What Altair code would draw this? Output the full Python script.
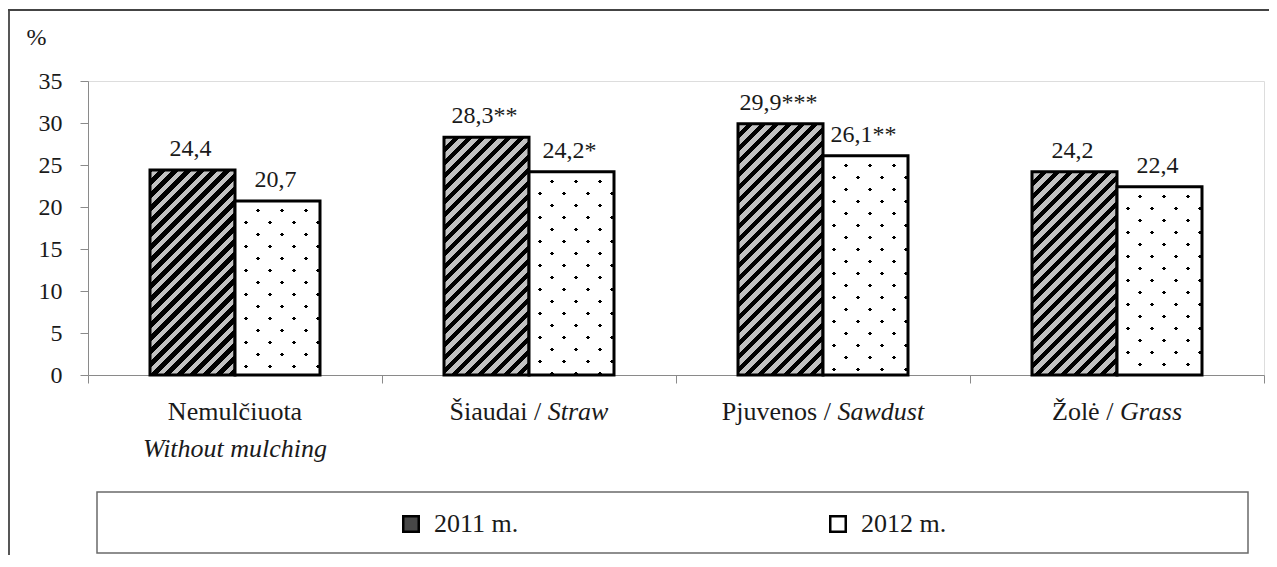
import math
import altair as alt
import pandas as pd

# ---------------- data ----------------
categories = ["Nemulčiuota", "Šiaudai", "Pjuvenos", "Žolė"]
categories_en = ["Without mulching", "Straw", "Sawdust", "Grass"]
years = ["2011 m.", "2012 m."]
values_2011 = [24.4, 28.3, 29.9, 24.2]
values_2012 = [20.7, 24.2, 26.1, 22.4]
signif_2011 = ["", "**", "***", ""]
signif_2012 = ["", "*", "**", ""]
y_ticks = [0, 5, 10, 15, 20, 25, 30, 35]
y_title = "%"

series = {years[0]: (values_2011, signif_2011), years[1]: (values_2012, signif_2012)}
rows = []
for i, c in enumerate(categories):
    for yr in years:
        vals, sig = series[yr]
        rows.append({"cat": c, "year": yr, "value": vals[i],
                     "label": f"{vals[i]:.1f}".replace(".", ",") + sig[i]})
df = pd.DataFrame(rows)
lab_df = pd.DataFrame({"cat": categories, "lt": categories, "en": categories_en})
one = alt.Data(values=[{"k": 1}])

# ---------------- style ----------------
FONT = "Liberation Serif"
TXT = "#1a1a1a"
AX = "#8a8a8a"
PLOT_W, PLOT_H = 1176, 294
Y_MAX = 35
BAND = PLOT_W / len(categories)
BAR_W = 85
OFF_PAD = (BAND / BAR_W - 2) / 2

# approximate Times metrics (per em) for centring mixed-style labels
ROMAN = {' ': .25, '/': .278, 'Š': .556, 'S': .556, 'i': .278, 'a': .444, 'u': .5,
         'd': .5, 'P': .556, 'j': .278, 'v': .5, 'e': .444, 'ė': .444, 'n': .5,
         'o': .5, 's': .389, 'Ž': .611, 'l': .278, 'N': .722, 'm': .778, 'č': .444,
         't': .278}
ITAL = {' ': .25, 'S': .5, 't': .278, 'r': .389, 'a': .5, 'w': .667, 'd': .5, 'u': .5,
        's': .389, 'G': .722, 'W': .833, 'i': .278, 'h': .5, 'o': .5, 'm': .722,
        'l': .278, 'c': .444, 'n': .5, 'g': .5}


def text_w(s, table, fs):
    return sum(table.get(ch, .5) for ch in s) * fs


def stripes(w, h, direction, period, width, phase, on, off):
    L = w + h
    lam = L / (w * w + h * h)
    if direction == "/":
        x1, y1, x2, y2 = 0, 0, lam * w, lam * h
        shift = 0.0
    else:
        x1, y1, x2, y2 = 0, 1, lam * w, 1 - lam * h
        shift = h
    stops = [(0.0, off)]
    kmin = math.floor((-width - phase - shift) / period) - 1
    kmax = math.ceil((L + width - phase - shift) / period) + 1
    for k in range(kmin, kmax + 1):
        s = phase + shift + k * period
        a = (s - width / 2) / L
        b = (s + width / 2) / L
        if b <= 0 or a >= 1:
            continue
        a = max(a, 0.0)
        b = min(b, 1.0)
        stops += [(a, off), (a, on), (b, on), (b, off)]
    stops.append((1.0, off))
    return alt.LinearGradient(
        gradient="linear",
        stops=[alt.GradientStop(offset=round(o, 6), color=c) for o, c in stops],
        x1=x1, y1=y1, x2=x2, y2=y2)


x_axis = alt.Axis(title=None, labels=False, domainColor=AX, domainWidth=1,
                  tickColor=AX, tickWidth=1, tickSize=8, tickBand="extent", grid=False)
y_axis = alt.Axis(title=y_title, values=y_ticks, titleAngle=0, titleX=-52, titleY=-44,
                  titleAlign="center", titleBaseline="middle", titleFont=FONT,
                  titleFontSize=24, titleFontWeight="normal", titleColor=TXT,
                  labelFont=FONT, labelFontSize=24, labelColor=TXT, labelPadding=18,
                  tickSize=8, tickColor=AX, tickWidth=1, domainColor=AX, domainWidth=1,
                  grid=False)

x_enc = alt.X("cat:N", sort=categories,
              scale=alt.Scale(domain=categories, paddingInner=0, paddingOuter=0),
              axis=x_axis)
xo_enc = alt.XOffset("year:N", sort=years,
                     scale=alt.Scale(domain=years, paddingInner=0, paddingOuter=OFF_PAD))
y_enc = alt.Y("value:Q", scale=alt.Scale(domain=[0, Y_MAX], nice=False, zero=True),
              axis=y_axis)

layers = []

# outer frame (decoration)
layers.append(alt.Chart(one).mark_rule(color="#444444", strokeWidth=1.8).encode(
    x=alt.value(-79), y=alt.value(-71), y2=alt.value(490)))
layers.append(alt.Chart(one).mark_rule(color="#444444", strokeWidth=1.8).encode(
    x=alt.value(-80), x2=alt.value(1200), y=alt.value(-71)))

# bars with hatch / dot textures
for i, c in enumerate(categories):
    for yr in years:
        vals, _ = series[yr]
        h = vals[i] * PLOT_H / Y_MAX
        base = alt.Chart(df).transform_filter(
            (alt.datum.cat == c) & (alt.datum.year == yr))
        if yr == years[0]:
            g = stripes(BAR_W, h, "/", 13, 6.2, 0, "#000000", "#c2c2c2")
            layers.append(base.mark_bar(fill=g, stroke="black", strokeWidth=3).encode(
                x=x_enc, xOffset=xo_enc, y=y_enc))
        else:
            ga = stripes(BAR_W, h, "/", 24, 3.6, 8.5, "#000000", "#ffffff")
            gb = stripes(BAR_W, h, "\\", 24, 3.6, 13.5, "rgba(255,255,255,0)", "#ffffff")
            layers.append(base.mark_bar(fill=ga, strokeWidth=0).encode(
                x=x_enc, xOffset=xo_enc, y=y_enc))
            layers.append(base.mark_bar(fill=gb, stroke="black", strokeWidth=3).encode(
                x=x_enc, xOffset=xo_enc, y=y_enc))

# value labels
layers.append(alt.Chart(df).mark_text(dy=-14, dx=-2, baseline="alphabetic", font=FONT,
                                      fontSize=24, color=TXT).encode(
    x=x_enc, xOffset=xo_enc, y=y_enc, text="label:N"))

# category labels (mixed upright / italic)
FSX = 26
LINE1, LINE2 = 339, 376
for i, c in enumerate(categories):
    base = alt.Chart(lab_df).transform_filter(alt.datum.cat == c)
    if i == 0:
        layers.append(base.mark_text(align="center", baseline="alphabetic", font=FONT,
                                     fontSize=FSX, color=TXT).encode(
            x=x_enc, y=alt.value(LINE1), text="lt:N"))
        layers.append(base.mark_text(align="center", baseline="alphabetic", font=FONT,
                                     fontStyle="italic", fontSize=FSX, color=TXT).encode(
            x=x_enc, y=alt.value(LINE2), text="en:N"))
    else:
        reg = c + " /"
        wr = text_w(reg, ROMAN, FSX)
        gap = 0.25 * FSX
        wi = text_w(categories_en[i], ITAL, FSX)
        W = wr + gap + wi
        d_r = -W / 2 + wr
        d_i = d_r + gap
        layers.append(base.transform_calculate(reg_txt="datum.lt + ' /'").mark_text(
            align="right", baseline="alphabetic", dx=d_r, font=FONT, fontSize=FSX,
            color=TXT).encode(x=x_enc, y=alt.value(LINE1), text="reg_txt:N"))
        layers.append(base.mark_text(
            align="left", baseline="alphabetic", dx=d_i, font=FONT, fontStyle="italic",
            fontSize=FSX, color=TXT).encode(x=x_enc, y=alt.value(LINE1), text="en:N"))

# legend box (decoration)
layers.append(alt.Chart(one).mark_rect(fill="#ffffff", fillOpacity=0, stroke="#6a6a6a",
                                       strokeWidth=1.5).encode(
    x=alt.value(9), x2=alt.value(1160), y=alt.value(411), y2=alt.value(472)))

# legend entries
layers.append(alt.Chart(df).mark_point(shape="square", filled=True, opacity=0, size=4).encode(
    x=x_enc, xOffset=xo_enc, y=y_enc,
    fill=alt.Fill("year:N", sort=years,
                  scale=alt.Scale(domain=years, range=["#474747", "#ffffff"]),
                  legend=alt.Legend(title=None, orient="none", legendX=310, legendY=430,
                                    direction="horizontal", columns=2, padding=0,
                                    symbolType="square", symbolSize=240,
                                    symbolStrokeColor="black", symbolStrokeWidth=2.5,
                                    symbolOpacity=1, labelFont=FONT, labelFontSize=26,
                                    labelColor=TXT, labelOffset=10, columnPadding=306))))

chart = alt.layer(*layers).properties(
    width=PLOT_W, height=PLOT_H,
    autosize=alt.AutoSizeParams(type="none"),
    padding={"left": 80, "top": 73, "right": 5, "bottom": 180},
).configure_view(stroke=None).configure(font=FONT)

chart.save("out.html", embed_options={"renderer": "svg", "actions": False})
